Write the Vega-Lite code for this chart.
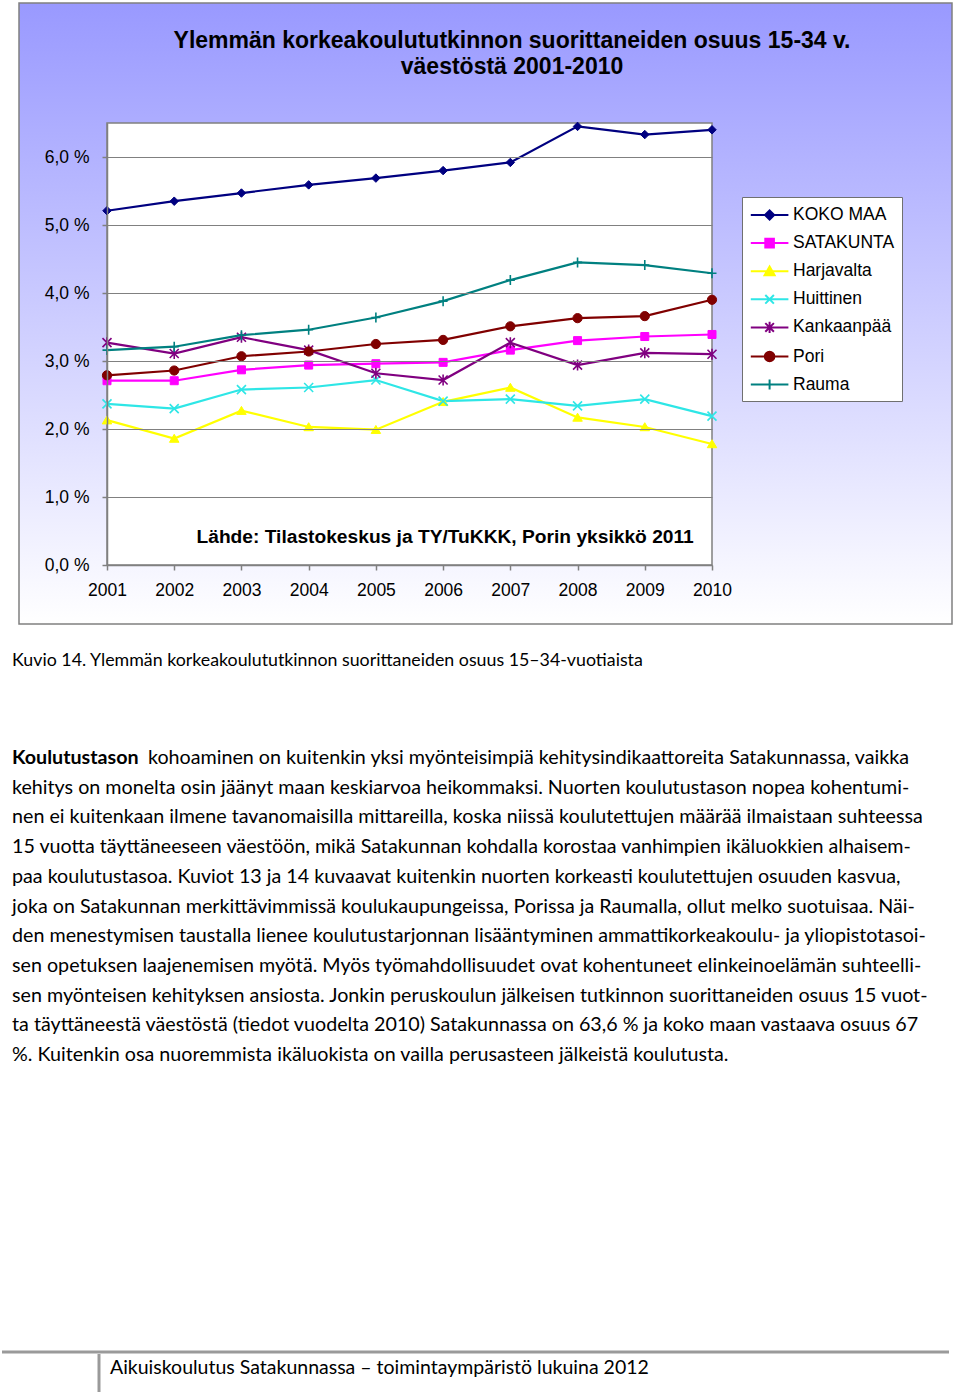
{
  "$schema": "https://vega.github.io/schema/vega-lite/v6.json",
  "padding": {"left": 0, "top": 2, "right": 0, "bottom": 0},
  "background": "white",
  "spacing": 0,
  "bounds": "flush",
  "config": {"view": {"stroke": null}, "font": "Liberation Sans"},
  "vconcat": [
    {
      "width": 933,
      "height": 621,
      "view": {
        "fill": {"gradient": "linear", "x1": 0, "y1": 0, "x2": 0, "y2": 1,
          "stops": [{"offset": 0, "color": "#9999FF"}, {"offset": 1, "color": "#FFFFFF"}]},
        "stroke": "#808080",
        "strokeWidth": 1.5
      },
      "layer": [
        {
          "data": {"values": [{}]},
          "mark": {"type": "rect", "fill": "#FFFFFF", "stroke": "#808080", "strokeWidth": 1.5},
          "encoding": {
            "x": {"datum": 2001, "type": "quantitative",
              "scale": {"domain": [2001, 2010], "range": [88, 693], "nice": false, "zero": false},
              "axis": {"title": null, "orient": "bottom", "offset": -59, "zindex": 1, "values": [2001, 2002, 2003, 2004, 2005, 2006, 2007, 2008, 2009, 2010],
                "format": "d", "grid": false, "domainColor": "#808080", "domainWidth": 1.5, "tickColor": "#808080", "tickSize": 5, "tickWidth": 1.5,
                "labelFont": "Liberation Sans", "labelFontSize": 17.5, "labelColor": "#000000", "labelPadding": 11, "labelFlush": false, "labelOverlap": false}},
            "x2": {"datum": 2010},
            "y": {"datum": 0, "type": "quantitative",
              "scale": {"domain": [0, 6.5], "range": [562, 120], "nice": false, "zero": true},
              "axis": {"title": null, "orient": "left", "offset": -88, "zindex": 1, "values": [0, 1, 2, 3, 4, 5, 6],
                "labelExpr": "replace(format(datum.value, '.1f'), '.', ',') + ' %'",
                "grid": true, "gridColor": "#808080", "gridWidth": 1, "domainColor": "#808080", "domainWidth": 1.5,
                "tickColor": "#808080", "tickSize": 5, "tickWidth": 1.5,
                "labelFont": "Liberation Sans", "labelFontSize": 17.5, "labelColor": "#000000", "labelPadding": 13, "labelFlush": false, "labelOverlap": false}},
            "y2": {"datum": 6.5}
          }
        },
        {
          "data": {"values": [
            {"year": 2001, "series": "KOKO MAA", "value": 5.21}, {"year": 2002, "series": "KOKO MAA", "value": 5.35},
            {"year": 2003, "series": "KOKO MAA", "value": 5.47}, {"year": 2004, "series": "KOKO MAA", "value": 5.59},
            {"year": 2005, "series": "KOKO MAA", "value": 5.69}, {"year": 2006, "series": "KOKO MAA", "value": 5.80},
            {"year": 2007, "series": "KOKO MAA", "value": 5.92}, {"year": 2008, "series": "KOKO MAA", "value": 6.45},
            {"year": 2009, "series": "KOKO MAA", "value": 6.33}, {"year": 2010, "series": "KOKO MAA", "value": 6.40},
            {"year": 2001, "series": "SATAKUNTA", "value": 2.71}, {"year": 2002, "series": "SATAKUNTA", "value": 2.71},
            {"year": 2003, "series": "SATAKUNTA", "value": 2.87}, {"year": 2004, "series": "SATAKUNTA", "value": 2.94},
            {"year": 2005, "series": "SATAKUNTA", "value": 2.96}, {"year": 2006, "series": "SATAKUNTA", "value": 2.98},
            {"year": 2007, "series": "SATAKUNTA", "value": 3.16}, {"year": 2008, "series": "SATAKUNTA", "value": 3.30},
            {"year": 2009, "series": "SATAKUNTA", "value": 3.36}, {"year": 2010, "series": "SATAKUNTA", "value": 3.39},
            {"year": 2001, "series": "Harjavalta", "value": 2.13}, {"year": 2002, "series": "Harjavalta", "value": 1.86},
            {"year": 2003, "series": "Harjavalta", "value": 2.27}, {"year": 2004, "series": "Harjavalta", "value": 2.03},
            {"year": 2005, "series": "Harjavalta", "value": 1.99}, {"year": 2006, "series": "Harjavalta", "value": 2.40},
            {"year": 2007, "series": "Harjavalta", "value": 2.61}, {"year": 2008, "series": "Harjavalta", "value": 2.17},
            {"year": 2009, "series": "Harjavalta", "value": 2.03}, {"year": 2010, "series": "Harjavalta", "value": 1.78},
            {"year": 2001, "series": "Huittinen", "value": 2.37}, {"year": 2002, "series": "Huittinen", "value": 2.30},
            {"year": 2003, "series": "Huittinen", "value": 2.58}, {"year": 2004, "series": "Huittinen", "value": 2.61},
            {"year": 2005, "series": "Huittinen", "value": 2.72}, {"year": 2006, "series": "Huittinen", "value": 2.41},
            {"year": 2007, "series": "Huittinen", "value": 2.44}, {"year": 2008, "series": "Huittinen", "value": 2.34},
            {"year": 2009, "series": "Huittinen", "value": 2.44}, {"year": 2010, "series": "Huittinen", "value": 2.19},
            {"year": 2001, "series": "Kankaanpää", "value": 3.27}, {"year": 2002, "series": "Kankaanpää", "value": 3.11},
            {"year": 2003, "series": "Kankaanpää", "value": 3.35}, {"year": 2004, "series": "Kankaanpää", "value": 3.16},
            {"year": 2005, "series": "Kankaanpää", "value": 2.82}, {"year": 2006, "series": "Kankaanpää", "value": 2.72},
            {"year": 2007, "series": "Kankaanpää", "value": 3.27}, {"year": 2008, "series": "Kankaanpää", "value": 2.94},
            {"year": 2009, "series": "Kankaanpää", "value": 3.12}, {"year": 2010, "series": "Kankaanpää", "value": 3.10},
            {"year": 2001, "series": "Pori", "value": 2.79}, {"year": 2002, "series": "Pori", "value": 2.86},
            {"year": 2003, "series": "Pori", "value": 3.07}, {"year": 2004, "series": "Pori", "value": 3.14},
            {"year": 2005, "series": "Pori", "value": 3.25}, {"year": 2006, "series": "Pori", "value": 3.31},
            {"year": 2007, "series": "Pori", "value": 3.51}, {"year": 2008, "series": "Pori", "value": 3.63},
            {"year": 2009, "series": "Pori", "value": 3.66}, {"year": 2010, "series": "Pori", "value": 3.90},
            {"year": 2001, "series": "Rauma", "value": 3.16}, {"year": 2002, "series": "Rauma", "value": 3.21},
            {"year": 2003, "series": "Rauma", "value": 3.38}, {"year": 2004, "series": "Rauma", "value": 3.46},
            {"year": 2005, "series": "Rauma", "value": 3.64}, {"year": 2006, "series": "Rauma", "value": 3.88},
            {"year": 2007, "series": "Rauma", "value": 4.19}, {"year": 2008, "series": "Rauma", "value": 4.45},
            {"year": 2009, "series": "Rauma", "value": 4.41}, {"year": 2010, "series": "Rauma", "value": 4.29}
          ]},
          "encoding": {
            "x": {"field": "year", "type": "quantitative",
              "scale": {"domain": [2001, 2010], "range": [88, 693], "nice": false, "zero": false},
              "axis": {"title": null, "orient": "bottom", "offset": -59, "zindex": 1, "values": [2001, 2002, 2003, 2004, 2005, 2006, 2007, 2008, 2009, 2010],
                "format": "d", "grid": false, "domainColor": "#808080", "domainWidth": 1.5, "tickColor": "#808080", "tickSize": 5, "tickWidth": 1.5,
                "labelFont": "Liberation Sans", "labelFontSize": 17.5, "labelColor": "#000000", "labelPadding": 11, "labelFlush": false, "labelOverlap": false}},
            "y": {"field": "value", "type": "quantitative",
              "scale": {"domain": [0, 6.5], "range": [562, 120], "nice": false, "zero": true},
              "axis": {"title": null, "orient": "left", "offset": -88, "zindex": 1, "values": [0, 1, 2, 3, 4, 5, 6],
                "labelExpr": "replace(format(datum.value, '.1f'), '.', ',') + ' %'",
                "grid": true, "gridColor": "#808080", "gridWidth": 1, "domainColor": "#808080", "domainWidth": 1.5,
                "tickColor": "#808080", "tickSize": 5, "tickWidth": 1.5,
                "labelFont": "Liberation Sans", "labelFontSize": 17.5, "labelColor": "#000000", "labelPadding": 13, "labelFlush": false, "labelOverlap": false}}
          },
          "layer": [
            {
              "mark": {"type": "line", "strokeWidth": 2.2},
              "encoding": {
                "color": {"field": "series", "type": "nominal",
                  "scale": {"domain": ["KOKO MAA", "SATAKUNTA", "Harjavalta", "Huittinen", "Kankaanpää", "Pori", "Rauma"],
                    "range": ["#000080", "#FF00FF", "#FFFF00", "#2EE6E6", "#800080", "#800000", "#008080"]},
                  "legend": {
                    "title": null, "orient": "none", "legendX": 723, "legendY": 194,
                    "fillColor": "#FFFFFF", "strokeColor": "#707070", "padding": 7,
                    "labelFont": "Liberation Sans", "labelFontSize": 17.5, "labelColor": "#000000",
                    "labelOffset": 12.4, "symbolOffset": 9.6, "rowPadding": 8.1, "symbolSize": 400, "symbolStrokeWidth": 2,
                    "symbolType": "M-1.88,0H1.88",
                    "encode": {"symbols": {"update": {
                      "shape": {"signal": "['M-1.88,0H1.88M0,-0.46L0.46,0L0,0.46L-0.46,0Z','M-1.88,0H1.88M-0.43,-0.43H0.43V0.43H-0.43Z','M-1.88,0H1.88M0,-0.46L0.5,0.4H-0.5Z','M-1.88,0H1.88M-0.43,-0.43L0.43,0.43M-0.43,0.43L0.43,-0.43','M-1.88,0H1.88M-0.43,-0.43L0.43,0.43M-0.43,0.43L0.43,-0.43M0,-0.56V0.56','M-1.88,0H1.88M-0.48,0A0.48,0.48 0 1,0 0.48,0A0.48,0.48 0 1,0 -0.48,0Z','M-1.88,0H1.88M0,-0.5V0.5'][indexof(['KOKO MAA','SATAKUNTA','Harjavalta','Huittinen','Kankaanpää','Pori','Rauma'], datum.value)]"},
                      "fill": {"signal": "['#000080','#FF00FF','#FFFF00','#2EE6E6','#800080','#800000','#008080'][indexof(['KOKO MAA','SATAKUNTA','Harjavalta','Huittinen','Kankaanpää','Pori','Rauma'], datum.value)]"},
                      "stroke": {"signal": "['#000080','#FF00FF','#FFFF00','#2EE6E6','#800080','#800000','#008080'][indexof(['KOKO MAA','SATAKUNTA','Harjavalta','Huittinen','Kankaanpää','Pori','Rauma'], datum.value)]"},
                      "strokeWidth": {"value": 2},
                      "opacity": {"value": 1}
                    }}}
                  }
                }
              }
            },
            {"transform": [{"filter": "datum.series === 'KOKO MAA'"}],
             "mark": {"type": "point", "shape": "M0,-0.85L0.85,0L0,0.85L-0.85,0Z", "size": 100, "filled": true, "fill": "#000080", "stroke": "#000080", "strokeWidth": 1, "opacity": 1}},
            {"transform": [{"filter": "datum.series === 'SATAKUNTA'"}],
             "mark": {"type": "point", "shape": "M-0.8,-0.8H0.8V0.8H-0.8Z", "size": 100, "filled": true, "fill": "#FF00FF", "stroke": "#FF00FF", "strokeWidth": 1, "opacity": 1}},
            {"transform": [{"filter": "datum.series === 'Harjavalta'"}],
             "mark": {"type": "point", "shape": "M0,-0.85L0.95,0.75H-0.95Z", "size": 100, "filled": true, "fill": "#FFFF00", "stroke": "#FFFF00", "strokeWidth": 1, "opacity": 1}},
            {"transform": [{"filter": "datum.series === 'Huittinen'"}],
             "mark": {"type": "point", "shape": "M-0.9,-0.9L0.9,0.9M-0.9,0.9L0.9,-0.9", "size": 100, "filled": false, "stroke": "#2EE6E6", "strokeWidth": 1.6, "opacity": 1}},
            {"transform": [{"filter": "datum.series === 'Kankaanpää'"}],
             "mark": {"type": "point", "shape": "M-0.9,-0.9L0.9,0.9M-0.9,0.9L0.9,-0.9M0,-1.1V1.1", "size": 100, "filled": false, "stroke": "#800080", "strokeWidth": 1.6, "opacity": 1}},
            {"transform": [{"filter": "datum.series === 'Pori'"}],
             "mark": {"type": "point", "shape": "circle", "size": 85, "filled": true, "fill": "#800000", "stroke": "#800000", "strokeWidth": 1, "opacity": 1}},
            {"transform": [{"filter": "datum.series === 'Rauma'"}],
             "mark": {"type": "point", "shape": "M-0.9,0H0.9M0,-1V1", "size": 100, "filled": false, "stroke": "#008080", "strokeWidth": 1.6, "opacity": 1}}
          ]
        },
        {
          "data": {"values": [{"heading": "Ylemmän korkeakoulututkinnon suorittaneiden osuus 15-34 v.\nväestöstä 2001-2010"}]},
          "mark": {"type": "text", "font": "Liberation Sans", "fontSize": 23, "fontWeight": "bold", "color": "#000000", "align": "center", "baseline": "middle", "lineBreak": "\n", "lineHeight": 26},
          "encoding": {
            "text": {"field": "heading"},
            "x": {"datum": 2007.025, "type": "quantitative", "scale": {"domain": [2001, 2010], "range": [88, 693], "nice": false, "zero": false}},
            "y": {"datum": 7.71, "type": "quantitative", "scale": {"domain": [0, 6.5], "range": [562, 120], "nice": false, "zero": true}}
          }
        },
        {
          "data": {"values": [{"note": "Lähde: Tilastokeskus ja TY/TuKKK, Porin yksikkö 2011"}]},
          "mark": {"type": "text", "font": "Liberation Sans", "fontSize": 19.2, "fontWeight": "bold", "color": "#000000", "align": "center", "baseline": "middle"},
          "encoding": {
            "text": {"field": "note"},
            "x": {"datum": 2006.03, "type": "quantitative", "scale": {"domain": [2001, 2010], "range": [88, 693], "nice": false, "zero": false}},
            "y": {"datum": 0.41, "type": "quantitative", "scale": {"domain": [0, 6.5], "range": [562, 120], "nice": false, "zero": true}}
          }
        }
      ]
    },
    {
      "width": 930,
      "height": 73,
      "data": {"values": [{"caption": "Kuvio 14. Ylemmän korkeakoulututkinnon suorittaneiden osuus 15–34-vuotiaista"}]},
      "mark": {"type": "text", "font": "Lato", "fontSize": 17.8, "color": "#000000", "align": "left", "baseline": "middle", "dx": -7},
      "encoding": {
        "text": {"field": "caption"},
        "x": {"datum": 0, "type": "quantitative", "scale": {"domain": [0, 1]}, "axis": null}
      }
    },
    {
      "width": 930,
      "height": 655,
      "data": {"values": [
        {"line": 1, "part": "bold", "text": "Koulutustason"},
        {"line": 1, "part": "rest", "text": "kohoaminen on kuitenkin yksi myönteisimpiä kehitysindikaattoreita Satakunnassa, vaikka"},
        {"line": 2, "part": "normal", "text": "kehitys on monelta osin jäänyt maan keskiarvoa heikommaksi. Nuorten koulutustason nopea kohentumi-"},
        {"line": 3, "part": "normal", "text": "nen ei kuitenkaan ilmene tavanomaisilla mittareilla, koska niissä koulutettujen määrää ilmaistaan suhteessa"},
        {"line": 4, "part": "normal", "text": "15 vuotta täyttäneeseen väestöön, mikä Satakunnan kohdalla korostaa vanhimpien ikäluokkien alhaisem-"},
        {"line": 5, "part": "normal", "text": "paa koulutustasoa. Kuviot 13 ja 14 kuvaavat kuitenkin nuorten korkeasti koulutettujen osuuden kasvua,"},
        {"line": 6, "part": "normal", "text": "joka on Satakunnan merkittävimmissä koulukaupungeissa, Porissa ja Raumalla, ollut melko suotuisaa. Näi-"},
        {"line": 7, "part": "normal", "text": "den menestymisen taustalla lienee koulutustarjonnan lisääntyminen ammattikorkeakoulu- ja yliopistotasoi-"},
        {"line": 8, "part": "normal", "text": "sen opetuksen laajenemisen myötä. Myös työmahdollisuudet ovat kohentuneet elinkeinoelämän suhteelli-"},
        {"line": 9, "part": "normal", "text": "sen myönteisen kehityksen ansiosta. Jonkin peruskoulun jälkeisen tutkinnon suorittaneiden osuus 15 vuot-"},
        {"line": 10, "part": "normal", "text": "ta täyttäneestä väestöstä (tiedot vuodelta 2010) Satakunnassa on 63,6 % ja koko maan vastaava osuus 67"},
        {"line": 11, "part": "normal", "text": "%. Kuitenkin osa nuoremmista ikäluokista on vailla perusasteen jälkeistä koulutusta."}
      ]},
      "encoding": {
        "text": {"field": "text"},
        "x": {"datum": 0, "type": "quantitative", "scale": {"domain": [0, 1]}, "axis": null},
        "y": {"field": "line", "type": "quantitative", "scale": {"domain": [1, 11], "range": [61, 358]}, "axis": null}
      },
      "layer": [
        {"transform": [{"filter": "datum.part === 'bold'"}],
         "mark": {"type": "text", "font": "Lato", "fontSize": 19.7, "fontWeight": "bold", "color": "#000000", "align": "left", "baseline": "middle", "dx": -7}},
        {"transform": [{"filter": "datum.part === 'rest'"}],
         "mark": {"type": "text", "font": "Lato", "fontSize": 19.7, "color": "#000000", "align": "left", "baseline": "middle", "dx": 129}},
        {"transform": [{"filter": "datum.part === 'normal'"}],
         "mark": {"type": "text", "font": "Lato", "fontSize": 19.7, "color": "#000000", "align": "left", "baseline": "middle", "dx": -7}}
      ]
    },
    {
      "width": 930,
      "height": 43,
      "layer": [
        {
          "data": {"values": [{}]},
          "mark": {"type": "rule", "stroke": "#9A9A9A", "strokeWidth": 3},
          "encoding": {
            "x": {"datum": -17, "type": "quantitative", "scale": {"domain": [0, 930], "range": [0, 930]}, "axis": null},
            "x2": {"datum": 930},
            "y": {"datum": 0, "type": "quantitative", "scale": {"domain": [0, 43], "range": [0, 43]}, "axis": null}
          }
        },
        {
          "data": {"values": [{}]},
          "mark": {"type": "rule", "stroke": "#9A9A9A", "strokeWidth": 3},
          "encoding": {
            "x": {"datum": 80, "type": "quantitative", "scale": {"domain": [0, 930], "range": [0, 930]}, "axis": null},
            "y": {"datum": 2, "type": "quantitative", "scale": {"domain": [0, 43], "range": [0, 43]}, "axis": null},
            "y2": {"datum": 40}
          }
        },
        {
          "data": {"values": [{"footer": "Aikuiskoulutus Satakunnassa – toimintaympäristö lukuina 2012"}]},
          "mark": {"type": "text", "font": "Lato", "fontSize": 19.5, "color": "#000000", "align": "left", "baseline": "middle"},
          "encoding": {
            "text": {"field": "footer"},
            "x": {"datum": 91, "type": "quantitative", "scale": {"domain": [0, 930], "range": [0, 930]}, "axis": null},
            "y": {"datum": 16, "type": "quantitative", "scale": {"domain": [0, 43], "range": [0, 43]}, "axis": null}
          }
        }
      ]
    }
  ]
}
